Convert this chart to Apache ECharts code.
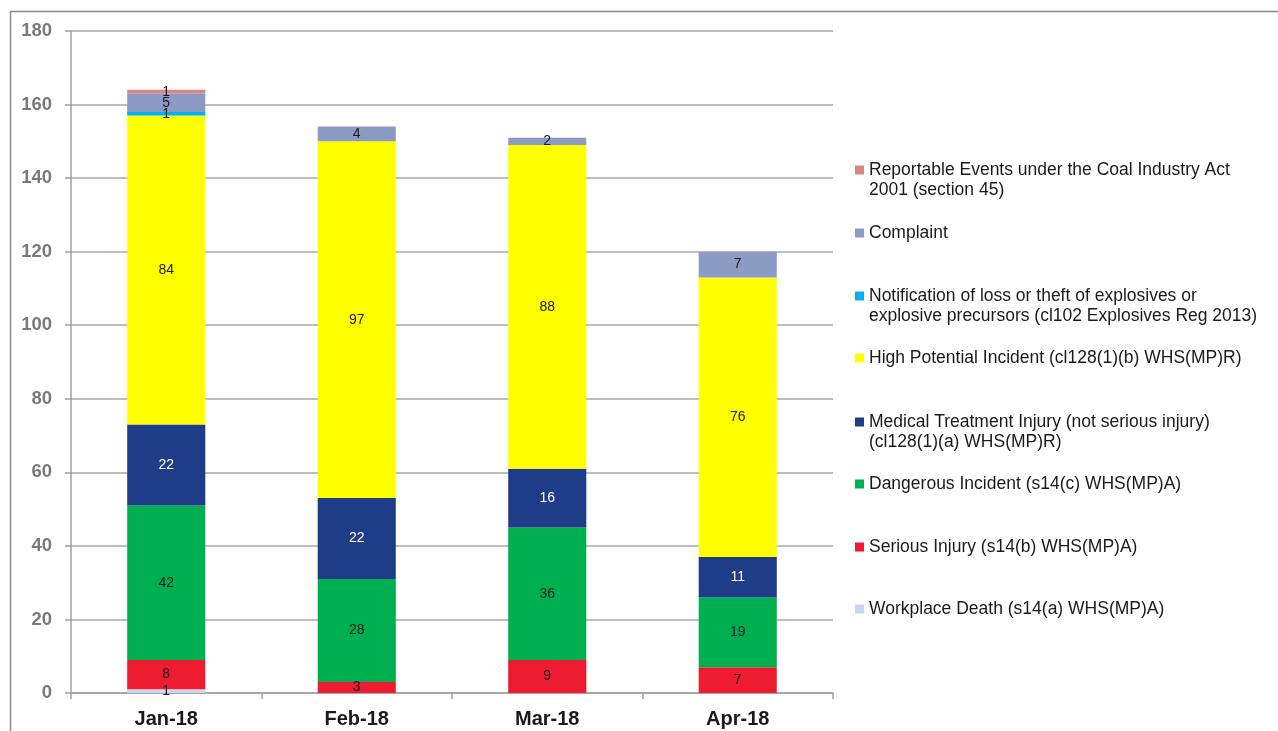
<!DOCTYPE html>
<html><head><meta charset="utf-8">
<script src="https://cdn.jsdelivr.net/npm/echarts@6/dist/echarts.min.js"></script>
<style>html,body{margin:0;padding:0;background:#fff}#c{width:1278px;height:731px}</style>
</head><body><div id="c"></div>
<script>
const categories = ['Jan-18','Feb-18','Mar-18','Apr-18'];
const yTicks = [0,20,40,60,80,100,120,140,160,180];
const workplaceDeath = [1,0,0,0];
const seriousInjury = [8,3,9,7];
const dangerousIncident = [42,28,36,19];
const medicalTreatment = [22,22,16,11];
const highPotential = [84,97,88,76];
const notification = [1,0,0,0];
const complaint = [5,4,2,7];
const reportable = [1,0,0,0];

const seriesDefs = [
  {name:'Workplace Death (s14(a) WHS(MP)A)', data:workplaceDeath, color:'#C5D8EF', label:'#1a1a1a', legend:'Workplace Death (s14(a) WHS(MP)A)'},
  {name:'Serious Injury (s14(b) WHS(MP)A)', data:seriousInjury, color:'#ED1C31', label:'#1a1a1a', legend:'Serious Injury (s14(b) WHS(MP)A)'},
  {name:'Dangerous Incident (s14(c) WHS(MP)A)', data:dangerousIncident, color:'#00B050', label:'#1a1a1a', legend:'Dangerous Incident (s14(c) WHS(MP)A)'},
  {name:'Medical Treatment Injury (not serious injury) (cl128(1)(a) WHS(MP)R)', data:medicalTreatment, color:'#1F3C88', label:'#ffffff', legend:'Medical Treatment Injury (not serious injury)\n(cl128(1)(a) WHS(MP)R)'},
  {name:'High Potential Incident (cl128(1)(b) WHS(MP)R)', data:highPotential, color:'#FFFF00', label:'#1a1a1a', legend:'High Potential Incident (cl128(1)(b) WHS(MP)R)'},
  {name:'Notification of loss or theft of explosives or explosive precursors (cl102 Explosives Reg 2013)', data:notification, color:'#00B0F0', label:'#1a1a1a', legend:'Notification of loss or theft of explosives or\nexplosive precursors (cl102 Explosives Reg 2013)'},
  {name:'Complaint', data:complaint, color:'#8C9BC4', label:'#1a1a1a', legend:'Complaint'},
  {name:'Reportable Events under the Coal Industry Act 2001 (section 45)', data:reportable, color:'#D88585', label:'#1a1a1a', legend:'Reportable Events under the Coal Industry Act\n2001 (section 45)'}
];

// legend first-line centres (top to bottom: reverse series order)
const legendCentres = [607,545,482,420,356,294,231,168];
const LH = 20;
const legends = seriesDefs.map((s,i)=>{
  const lines = s.legend.split('\n').length;
  const txt = lines > 1 ? ' \n' + s.legend : s.legend;
  const total = lines > 1 ? lines + 1 : 1;
  const blockH = total*LH;
  return {
    data:[s.name],
    orient:'vertical',
    left:855,
    top: legendCentres[i] + 2 - blockH/2,
    padding:0,
    itemWidth:9,
    itemHeight:9,
    icon:'rect',
    selectedMode:false,
    formatter: ()=> txt,
    textStyle:{fontFamily:'Liberation Sans, Arial, sans-serif', fontSize:17.5, color:'#1a1a1a', lineHeight:LH}
  };
});

const chart = echarts.init(document.getElementById('c'), null, {renderer:'canvas'});
chart.setOption({
  animation:false,
  backgroundColor:'#ffffff',
  graphic:[{type:'rect', shape:{x:10.5,y:11.5,width:1400,height:900}, style:{fill:'none', stroke:'#8a8a8a', lineWidth:1.5}, silent:true}],
  grid:{left:71, right:445, top:31, bottom:38},
  legend: legends,
  xAxis:{
    type:'category', data:categories,
    axisLine:{lineStyle:{color:'#a0a0a0', width:1.5}},
    axisTick:{show:true, length:6, inside:false, alignWithLabel:false, lineStyle:{color:'#a0a0a0', width:1.5}},
    axisLabel:{margin:16, fontFamily:'Liberation Sans, Arial, sans-serif', fontSize:20, fontWeight:'bold', color:'#1a1a1a'}
  },
  yAxis:{
    type:'value', min:0, max:180, interval:20,
    axisLine:{show:true, lineStyle:{color:'#a0a0a0', width:1.5}},
    axisTick:{show:true, length:6, lineStyle:{color:'#a0a0a0', width:1.5}},
    splitLine:{lineStyle:{color:'#a8a8a8', width:1.5}},
    axisLabel:{margin:19, fontFamily:'Liberation Sans, Arial, sans-serif', fontSize:18.5, fontWeight:'bold', color:'#7a7a7a',
      formatter:(v)=> yTicks.includes(v) ? String(v) : ''}
  },
  series: seriesDefs.map(s=>({
    name:s.name, type:'bar', stack:'total', data:s.data, barWidth:'41%',
    itemStyle:{color:s.color},
    label:{show:true, position:'inside', color:s.label, fontFamily:'Liberation Sans, Arial, sans-serif', fontSize:14,
      textBorderWidth:0, formatter:(p)=> p.value ? String(p.value) : ''}
  }))
});
</script></body></html>
